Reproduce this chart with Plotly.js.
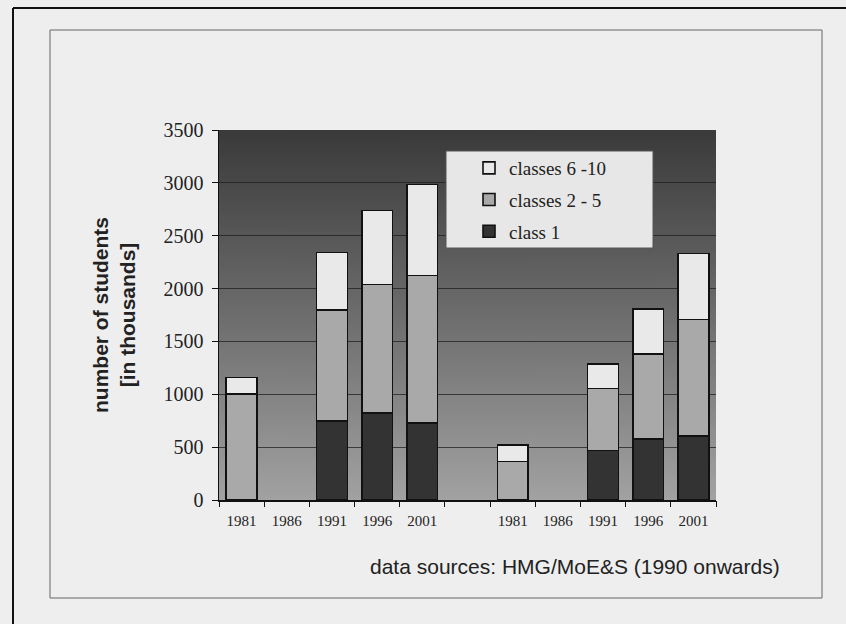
<!DOCTYPE html>
<html>
<head>
<meta charset="utf-8">
<script src="https://cdn.plot.ly/plotly-3.0.1.min.js"></script>
<style>html,body{margin:0;padding:0;background:#eeeeee;}</style>
</head>
<body>
<div id="chart" style="width:846px;height:624px;"></div>
<script>
// ---- data ----
var slots = [0, 1, 2, 3, 4, 5, 6, 7, 8, 9, 10];
var tickLabels = ["1981", "1986", "1991", "1996", "2001", "", "1981", "1986", "1991", "1996", "2001"];
var class1     = [null, null, 750,  825,  730,  null, null, null, 470, 575, 605];
var classes2_5 = [1000, null, 1050, 1212, 1392, null, 364,  null, 585, 807, 1103];
var classes6_10= [160,  null, 540,  700,  863,  null, 158,  null, 232, 427, 623];
var seriesNames = ["class 1", "classes 2 - 5", "classes 6 -10"];
var yTicks = [0, 500, 1000, 1500, 2000, 2500, 3000, 3500];

// ---- geometry (pixels) ----
var W = 846, H = 624;
var L = 219, R = 716, T = 130, B = 500;
var pw = R - L, ph = B - T;
function px(x) { return (x - L) / pw; }
function py(y) { return (B - y) / ph; }

// gradient background image from canvas
var cv = document.createElement('canvas');
cv.width = 4; cv.height = 256;
var ctx = cv.getContext('2d');
var g = ctx.createLinearGradient(0, 0, 0, 256);
g.addColorStop(0, '#3a3a3a');
g.addColorStop(0.5, '#6d6d6d');
g.addColorStop(1, '#a2a2a2');
ctx.fillStyle = g; ctx.fillRect(0, 0, 4, 256);
var gradURL = cv.toDataURL('image/png');

var lineStyle = {color: '#111111', width: 1.6};
function barTrace(vals, name, color, group, rank) {
  return {
    type: 'bar', x: slots, y: vals, name: name,
    width: 0.68, legendgroup: group, legendrank: rank,
    marker: {color: color, line: lineStyle},
    hoverinfo: 'y+name'
  };
}
var data = [
  barTrace(class1, seriesNames[0], '#333333', 'g1', 3),
  barTrace(classes2_5, seriesNames[1], '#a9a9a9', 'g2', 2),
  barTrace(classes6_10, seriesNames[2], '#e9e9e9', 'g3', 1),
  // invisible trace to carry the boundary tick axis
  {type: 'scatter', x: [-0.5, 10.5], y: [0, 0], xaxis: 'x2', mode: 'none', showlegend: false, hoverinfo: 'skip'}
];

var boundaryTicks = [];
for (var i = 0; i <= slots.length; i++) boundaryTicks.push(i - 0.5);
var labelTickVals = [], labelTickText = [];
for (var j = 0; j < slots.length; j++) {
  if (tickLabels[j] !== "") { labelTickVals.push(slots[j]); labelTickText.push(tickLabels[j]); }
}

var layout = {
  width: W, height: H,
  margin: {l: L, r: W - R, t: T, b: H - B, pad: 0},
  paper_bgcolor: '#eeeeee',
  plot_bgcolor: 'rgba(0,0,0,0)',
  barmode: 'stack',
  showlegend: true,
  font: {family: 'Liberation Serif, serif', color: '#111111'},
  xaxis: {
    range: [-0.5, 10.5], tickmode: 'array', tickvals: labelTickVals, ticktext: labelTickText,
    ticks: '', showgrid: false, zeroline: false, showline: true, linecolor: '#111111', linewidth: 1.5,
    tickfont: {family: 'Liberation Serif, serif', size: 15, color: '#222222'},
    ticklabelstandoff: 6, fixedrange: true
  },
  xaxis2: {
    overlaying: 'x', anchor: 'y', side: 'bottom', range: [-0.5, 10.5],
    tickmode: 'array', tickvals: boundaryTicks, ticks: 'outside', ticklen: 6, tickcolor: '#111111',
    showticklabels: false, showgrid: false, zeroline: false, showline: false, fixedrange: true
  },
  yaxis: {
    range: [0, 3500], tickmode: 'array', tickvals: yTicks,
    ticks: 'outside', ticklen: 6, tickcolor: '#111111',
    showline: true, linecolor: '#111111', linewidth: 1.5,
    showgrid: true, gridcolor: 'rgba(30,30,30,0.75)', gridwidth: 1,
    zeroline: false,
    tickfont: {family: 'Liberation Serif, serif', size: 20, color: '#222222'},
    ticklabelstandoff: 4,
    title: {text: 'number of students<br>[in thousands]', standoff: 22,
            font: {family: 'Liberation Sans, Arial, sans-serif', size: 21, color: '#222222', weight: 'bold'}},
    fixedrange: true
  },
  legend: {
    x: px(469), y: py(149), xanchor: 'left', yanchor: 'top',
    bgcolor: 'rgba(0,0,0,0)', borderwidth: 0,
    traceorder: 'grouped', tracegroupgap: 4,
    font: {family: 'Liberation Serif, serif', size: 19, color: '#222222'}
  },
  images: [{
    source: gradURL, xref: 'paper', yref: 'paper', x: 0, y: 1, sizex: 1, sizey: 1,
    sizing: 'stretch', xanchor: 'left', yanchor: 'top', layer: 'below'
  }],
  shapes: [
    {type: 'rect', xref: 'paper', yref: 'paper', x0: px(446), x1: px(653), y0: py(248), y1: py(151),
     fillcolor: '#e7e7e7', line: {color: '#555555', width: 1}, layer: 'above'},
    {type: 'rect', xref: 'paper', yref: 'paper', x0: px(50), x1: px(822), y0: py(598), y1: py(30),
     fillcolor: 'rgba(0,0,0,0)', line: {color: '#666666', width: 1}, layer: 'below'},
    {type: 'line', xref: 'paper', yref: 'paper', x0: px(13), x1: px(846), y0: py(8), y1: py(8),
     line: {color: '#111111', width: 2}},
    {type: 'line', xref: 'paper', yref: 'paper', x0: px(13), x1: px(13), y0: py(8), y1: py(624),
     line: {color: '#111111', width: 2}}
  ],
  annotations: [{
    text: 'data sources: HMG/MoE&amp;S (1990 onwards)', xref: 'paper', yref: 'paper',
    x: px(782), y: py(566), xanchor: 'right', yanchor: 'middle', showarrow: false,
    font: {family: 'Liberation Sans, Arial, sans-serif', size: 21, color: '#222222'}
  }]
};

Plotly.newPlot('chart', data, layout, {displayModeBar: false, staticPlot: true});
</script>
</body>
</html>
